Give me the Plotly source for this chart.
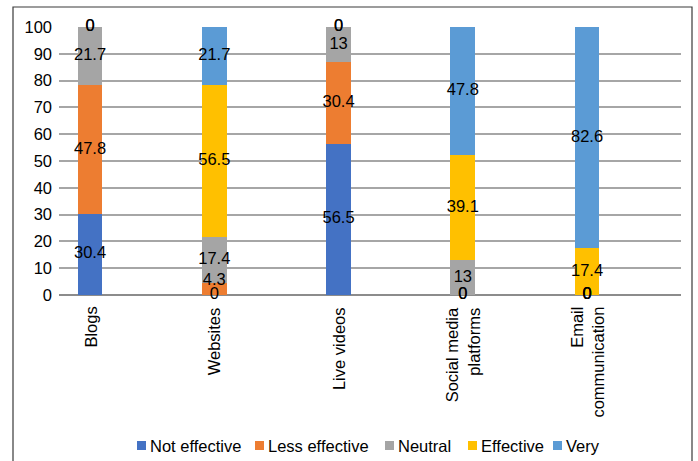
import plotly.graph_objects as go

categories = ["Blogs", "Websites", "Live videos", "Social media<br>platforms", "Email<br>communication"]
not_effective = [30.4, 0, 56.5, 0, 0]
less_effective = [47.8, 4.3, 30.4, 0, 0]
neutral = [21.7, 17.4, 13, 13, 0]
effective = [0, 56.5, 0, 39.1, 17.4]
very = [0, 21.7, 0, 47.8, 82.6]

series_names = ["Not effective", "Less effective", "Neutral", "Effective", "Very"]
series_values = [not_effective, less_effective, neutral, effective, very]
series_colors = ["#4472C4", "#ED7D31", "#A5A5A5", "#FFC000", "#5B9BD5"]

FONT = "Liberation Sans, Arial, sans-serif"
FS = 16.5

# plot-area geometry in pixels
W, H = 698, 461
ML, MR, MT, MB = 59, 17, 27, 166
PW, PH = W - ML - MR, H - MT - MB


def px_x(x):
    return (x - ML) / PW


def px_y(y):
    return (H - MB - y) / PH


fig = go.Figure()

base = [0.0] * len(categories)
label_x, label_y, label_t, label_pos = [], [], [], []
for name, vals, color in zip(series_names, series_values, series_colors):
    fig.add_trace(go.Bar(
        x=categories, y=vals, name=name, marker_color=color,
        marker_line_width=0, width=0.2, showlegend=False,
    ))
    for i, v in enumerate(vals):
        label_x.append(categories[i])
        label_y.append(base[i] + v / 2)
        label_t.append(f"{v:g}")
        # very thin segments get their label lifted slightly
        label_pos.append("top center" if 0 < v < 6 else "middle center")
        base[i] += v

# segment value labels
fig.add_trace(go.Scatter(
    x=label_x, y=label_y, text=label_t, mode="text", textposition=label_pos,
    textfont=dict(family=FONT, size=FS, color="#000000"),
    showlegend=False, hoverinfo="skip", cliponaxis=False,
))

# rotated category labels, line ends aligned next to the axis
for cat in categories:
    fig.add_annotation(
        x=cat, xref="x", y=px_y(305), yref="paper",
        text=cat, textangle=-90, align="right",
        xanchor="center", yanchor="top", showarrow=False,
        font=dict(family=FONT, size=FS, color="#000000"),
    )

# legend: small squares followed by the series names
legend_left = [137, 255, 385, 468, 553]
for name, color, lx in zip(series_names, series_colors, legend_left):
    fig.add_shape(type="rect", xref="paper", yref="paper",
                  x0=px_x(lx), x1=px_x(lx + 9), y0=px_y(450), y1=px_y(441),
                  line_width=0, fillcolor=color)
    fig.add_annotation(
        x=px_x(lx + 11), y=px_y(445.5), xref="paper", yref="paper",
        text=name, xanchor="left", yanchor="middle", showarrow=False,
        font=dict(family=FONT, size=FS, color="#000000"),
    )

# outer chart frame
fig.add_shape(type="rect", xref="paper", yref="paper",
              x0=px_x(13), x1=px_x(692), y0=px_y(475), y1=px_y(7),
              line=dict(color="#3a3a3a", width=1.2), fillcolor="rgba(0,0,0,0)")

fig.update_layout(
    barmode="stack",
    width=W, height=H,
    margin=dict(l=ML, r=MR, t=MT, b=MB),
    paper_bgcolor="white", plot_bgcolor="white",
    font=dict(family=FONT, size=FS, color="#000000"),
    xaxis=dict(
        showticklabels=False, showgrid=False, ticks="", showline=False,
        automargin=False, range=[-0.25, 4.756],
    ),
    yaxis=dict(
        range=[0, 100], dtick=10, showgrid=True, gridcolor="#A6A6A6", gridwidth=1.5,
        zeroline=True, zerolinecolor="#8c8c8c", zerolinewidth=1.5,
        ticks="", tickfont=dict(family=FONT, size=FS), ticklabelstandoff=6,
        automargin=False,
    ),
    showlegend=False,
)

fig.write_html("out.html")
